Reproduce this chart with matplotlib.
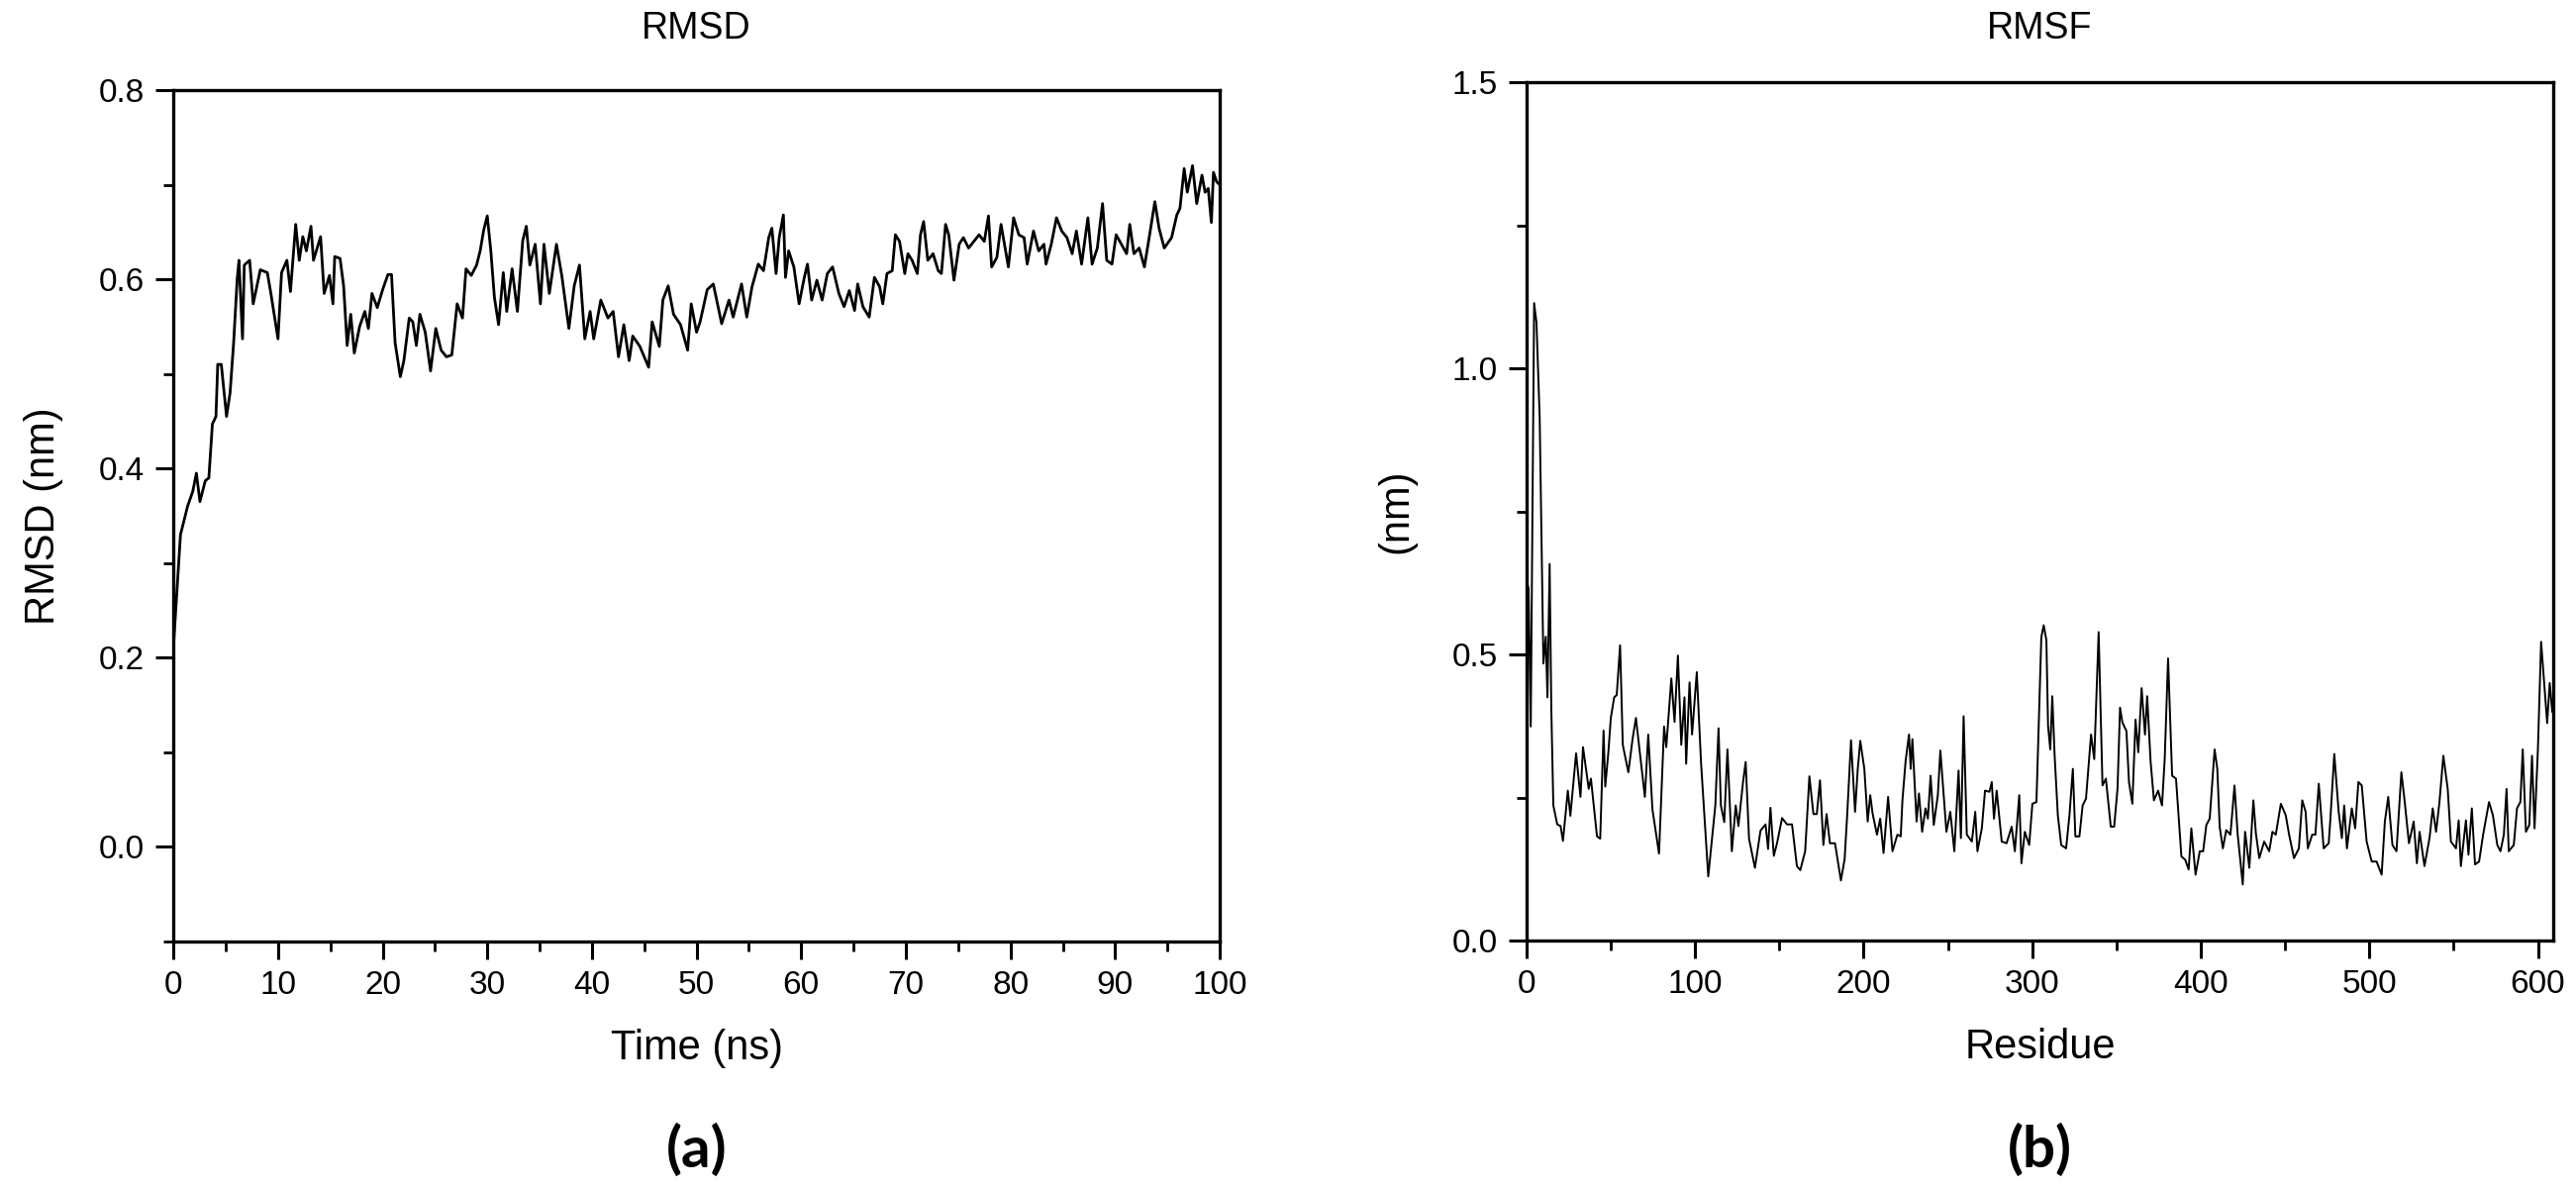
import matplotlib
matplotlib.use("Agg")
import matplotlib.pyplot as plt
from matplotlib.ticker import MultipleLocator, FormatStrFormatter

plt.rcParams["font.family"] = ["Liberation Sans", "DejaVu Sans"]

# RMSD trace: time (ns) and RMSD (nm)
rmsd_time = [
    0.0, 0.68, 1.36, 1.86, 2.2, 2.54, 3.05, 3.39, 3.73, 4.07, 4.24, 4.58, 5.08, 5.42, 5.76,
    6.1, 6.27, 6.61, 6.78, 7.29, 7.63, 8.31, 8.98, 9.32, 10.0, 10.34, 10.85, 11.19, 11.69,
    12.03, 12.37, 12.71, 13.15, 13.39, 14.07, 14.41, 14.92, 15.25, 15.42, 15.93, 16.27,
    16.61, 16.95, 17.29, 17.8, 18.3, 18.64, 18.98, 19.49, 20.0, 20.51, 20.85, 21.19, 21.69,
    22.03, 22.54, 22.88, 23.22, 23.56, 24.07, 24.58, 25.08, 25.59, 26.1, 26.61, 27.12,
    27.63, 27.97, 28.47, 28.98, 29.32, 29.66, 30.0, 30.34, 30.68, 31.08, 31.53, 31.86,
    32.37, 32.88, 33.39, 33.73, 34.07, 34.58, 35.08, 35.42, 35.93, 36.61, 37.12, 37.8,
    38.31, 38.81, 39.32, 39.83, 40.17, 40.85, 41.53, 42.03, 42.54, 43.05, 43.56, 43.9,
    44.58, 45.42, 45.76, 46.44, 46.78, 47.29, 47.8, 48.47, 49.15, 49.49, 50.0, 50.34,
    51.02, 51.6, 52.4, 53.1, 53.5, 54.3, 54.8, 55.3, 55.9, 56.4, 56.9, 57.2, 57.6, 57.9,
    58.3, 58.5, 58.8, 59.3, 59.8, 60.3, 60.6, 61.0, 61.5, 62.0, 62.5, 63.0, 63.6, 64.1,
    64.6, 65.1, 65.4, 65.9, 66.5, 67.0, 67.5, 67.8, 68.2, 68.7, 69.0, 69.4, 69.9, 70.2,
    70.6, 71.1, 71.4, 71.7, 72.1, 72.6, 73.1, 73.4, 73.8, 74.1, 74.6, 75.1, 75.5, 76.0,
    76.5, 77.0, 77.5, 77.9, 78.2, 78.7, 79.1, 79.8, 80.3, 80.8, 81.3, 81.6, 82.2, 82.7,
    83.2, 83.4, 83.9, 84.4, 84.9, 85.4, 85.9, 86.3, 86.8, 87.4, 87.8, 88.3, 88.8, 89.2,
    89.7, 90.1, 90.6, 91.1, 91.4, 91.8, 92.3, 92.8, 93.3, 93.8, 94.2, 94.7, 95.4, 95.9,
    96.2, 96.6, 96.9, 97.4, 97.8, 98.3, 98.6, 98.9, 99.2, 99.4, 99.7, 100.0,
]
rmsd_nm = [
    0.21, 0.33, 0.36, 0.376, 0.395, 0.365, 0.387, 0.39, 0.447, 0.455, 0.51, 0.51, 0.455,
    0.48, 0.533, 0.60, 0.62, 0.537, 0.615, 0.62, 0.574, 0.61, 0.607, 0.585, 0.537, 0.607,
    0.62, 0.587, 0.658, 0.62, 0.645, 0.63, 0.656, 0.62, 0.645, 0.585, 0.604, 0.574, 0.624,
    0.622, 0.593, 0.53, 0.563, 0.522, 0.55, 0.566, 0.548, 0.585, 0.57, 0.589, 0.605, 0.605,
    0.533, 0.497, 0.514, 0.559, 0.555, 0.53, 0.563, 0.544, 0.503, 0.548, 0.525, 0.518,
    0.52, 0.574, 0.559, 0.611, 0.604, 0.615, 0.63, 0.652, 0.667, 0.63, 0.581, 0.552, 0.607,
    0.566, 0.611, 0.566, 0.641, 0.656, 0.615, 0.637, 0.574, 0.637, 0.585, 0.637, 0.604,
    0.548, 0.593, 0.615, 0.537, 0.566, 0.537, 0.578, 0.559, 0.566, 0.518, 0.552, 0.514,
    0.54, 0.529, 0.507, 0.555, 0.529, 0.578, 0.593, 0.563, 0.552, 0.525, 0.574, 0.544,
    0.555, 0.589, 0.595, 0.553, 0.578, 0.56, 0.595, 0.56, 0.592, 0.616, 0.609, 0.644,
    0.654, 0.606, 0.644, 0.668, 0.602, 0.63, 0.613, 0.574, 0.602, 0.616, 0.578, 0.599,
    0.578, 0.606, 0.613, 0.585, 0.571, 0.588, 0.567, 0.595, 0.571, 0.56, 0.602, 0.592,
    0.574, 0.606, 0.609, 0.647, 0.64, 0.606, 0.627, 0.62, 0.606, 0.647, 0.661, 0.62,
    0.627, 0.609, 0.606, 0.658, 0.647, 0.599, 0.637, 0.644, 0.633, 0.64, 0.647, 0.64,
    0.667, 0.613, 0.623, 0.658, 0.613, 0.665, 0.647, 0.644, 0.616, 0.651, 0.63, 0.637,
    0.616, 0.637, 0.665, 0.651, 0.644, 0.627, 0.651, 0.616, 0.665, 0.616, 0.633, 0.68,
    0.62, 0.616, 0.647, 0.637, 0.627, 0.658, 0.627, 0.633, 0.613, 0.647, 0.682, 0.654,
    0.633, 0.644, 0.668, 0.675, 0.717, 0.692, 0.72, 0.68, 0.71, 0.692, 0.696, 0.66, 0.713,
    0.703, 0.70,
]

# RMSF trace: residue index and RMSF (nm)
rmsf_residue = [
    0, 1.2, 2.5, 4.5, 5.9, 7.8, 10, 11.4, 12.4, 13.7, 14.7, 15.9, 18.2, 20.2, 21.6, 24.5,
    26, 29.4, 32, 33.5, 36.9, 38.2, 41.8, 43.7, 45.7, 46.7, 48.6, 50, 52, 53.5, 55.5, 57.1,
    60.4, 62.9, 64.9, 67.3, 70.2, 72.2, 74.7, 78.6, 81.6, 82.9, 85.9, 87.8, 89.8, 91.8,
    93.7, 94.7, 96.7, 98.2, 101, 103.5, 107.8, 112, 113.9, 115.3, 117.3, 119.2, 121.8,
    124.1, 125.7, 128.4, 130, 132, 135.5, 138.8, 141.8, 143.3, 144.7, 146.7, 148.6, 151.6,
    154.5, 157.5, 160.4, 162.4, 165.3, 167.8, 170.2, 172.2, 174.1, 176.1, 178, 180, 183,
    186.5, 188.7, 190.3, 192.5, 194.9, 196.5, 198, 200.4, 202.4, 203.9, 205.3, 207.9,
    209.8, 211.8, 214.5, 217.1, 220, 222, 223, 224.9, 226.9, 227.9, 228.9, 231.4, 232.8,
    234.7, 236.7, 238.1, 239.7, 241.6, 244, 245.5, 249.1, 251.4, 253.8, 256.3, 257.7,
    259.3, 261.2, 264.2, 266.2, 267.5, 270.1, 272, 274.6, 276, 277.3, 278.9, 281.9, 284.8,
    287.8, 289.7, 292.3, 293.6, 295.6, 298.2, 300.1, 302.5, 305.4, 306.8, 308.4, 309.4,
    310.7, 311.9, 313.3, 315.2, 317.2, 320.1, 322.1, 324.1, 325.6, 328, 329.9, 331.9,
    334.9, 336.8, 339.4, 341.7, 343.7, 346.6, 348.6, 350.6, 352.1, 353.5, 355.9, 357.4,
    359.4, 361.3, 362.9, 364.9, 366.9, 368.2, 370.2, 372.2, 374.7, 377, 378.6, 380.6, 383,
    385.3, 388.5, 390.8, 392.8, 394.4, 396.9, 399.4, 401.4, 403.3, 405.3, 408.2, 409.8,
    411.2, 413.1, 415.1, 417.6, 420, 421.9, 424.9, 426.3, 428.8, 431.2, 432.7, 434.7,
    437.6, 440.6, 442.5, 444.5, 447.5, 450.4, 452.4, 455.3, 458.2, 460.2, 462.2, 463.5,
    466.1, 468, 470, 472.9, 475.9, 476.9, 479.2, 481.8, 483.7, 485.1, 486.7, 489.6, 491.6,
    493.5, 495.5, 498.4, 501.4, 504.3, 507.3, 509.2, 511.2, 513.7, 516.1, 519, 521, 523.5,
    526.3, 528.2, 529.8, 532.7, 535.7, 537.6, 539.6, 541.6, 543.9, 546.5, 548.4, 551.4,
    553, 554.3, 557.3, 558.8, 560.8, 562.7, 565.1, 567.5, 571, 573.3, 575.9, 577.8, 579.8,
    581.4, 582.7, 585.7, 587.6, 589.6, 591, 592.9, 594.9, 596.5, 598, 600, 601.9, 603.9,
    605.5, 607, 608.5,
]
rmsf_nm = [
    0.63, 0.615, 0.374, 1.114, 1.08, 0.913, 0.484, 0.531, 0.425, 0.658, 0.404, 0.236,
    0.203, 0.2, 0.174, 0.262, 0.218, 0.327, 0.251, 0.338, 0.265, 0.283, 0.182, 0.178,
    0.367, 0.269, 0.331, 0.389, 0.425, 0.429, 0.516, 0.342, 0.294, 0.352, 0.389, 0.327,
    0.251, 0.36, 0.229, 0.152, 0.374, 0.338, 0.458, 0.382, 0.498, 0.342, 0.425, 0.309,
    0.451, 0.36, 0.469, 0.312, 0.112, 0.236, 0.371, 0.236, 0.207, 0.334, 0.156, 0.236,
    0.2, 0.276, 0.312, 0.178, 0.127, 0.192, 0.203, 0.16, 0.232, 0.148, 0.17, 0.214, 0.203,
    0.203, 0.13, 0.123, 0.156, 0.287, 0.221, 0.221, 0.28, 0.167, 0.221, 0.17, 0.17, 0.105,
    0.142, 0.223, 0.35, 0.225, 0.3, 0.349, 0.3, 0.208, 0.254, 0.222, 0.185, 0.213, 0.153,
    0.251, 0.156, 0.185, 0.182, 0.245, 0.314, 0.36, 0.3, 0.352, 0.208, 0.257, 0.19, 0.231,
    0.213, 0.288, 0.202, 0.254, 0.332, 0.19, 0.225, 0.156, 0.297, 0.179, 0.392, 0.185,
    0.173, 0.225, 0.156, 0.196, 0.262, 0.26, 0.277, 0.213, 0.262, 0.173, 0.17, 0.199,
    0.156, 0.254, 0.135, 0.19, 0.167, 0.239, 0.242, 0.53, 0.551, 0.525, 0.375, 0.334,
    0.427, 0.323, 0.219, 0.167, 0.161, 0.219, 0.3, 0.182, 0.182, 0.236, 0.248, 0.36,
    0.317, 0.539, 0.271, 0.283, 0.199, 0.199, 0.265, 0.407, 0.381, 0.366, 0.277, 0.239,
    0.386, 0.329, 0.441, 0.36, 0.427, 0.314, 0.245, 0.262, 0.236, 0.317, 0.493, 0.288,
    0.283, 0.147, 0.141, 0.124, 0.196, 0.115, 0.156, 0.156, 0.202, 0.213, 0.334, 0.3,
    0.199, 0.161, 0.193, 0.185, 0.271, 0.185, 0.098, 0.19, 0.127, 0.245, 0.187, 0.144,
    0.173, 0.156, 0.19, 0.185, 0.239, 0.219, 0.185, 0.144, 0.161, 0.245, 0.225, 0.161,
    0.185, 0.185, 0.274, 0.161, 0.17, 0.213, 0.326, 0.225, 0.179, 0.236, 0.161, 0.231,
    0.196, 0.277, 0.271, 0.173, 0.138, 0.138, 0.115, 0.208, 0.251, 0.167, 0.156, 0.294,
    0.242, 0.17, 0.208, 0.135, 0.19, 0.13, 0.179, 0.231, 0.19, 0.242, 0.323, 0.265, 0.173,
    0.161, 0.21, 0.13, 0.21, 0.15, 0.231, 0.133, 0.138, 0.185, 0.242, 0.219, 0.167, 0.156,
    0.185, 0.265, 0.156, 0.167, 0.231, 0.242, 0.334, 0.19, 0.202, 0.323, 0.196, 0.334,
    0.522, 0.444, 0.38, 0.45, 0.40,
]


def style_axes(ax, xmajor, xminor, ymajor, yminor):
    for side in ["left", "right", "top", "bottom"]:
        ax.spines[side].set_linewidth(2.4)
    ax.xaxis.set_major_locator(MultipleLocator(xmajor))
    ax.xaxis.set_minor_locator(MultipleLocator(xminor))
    ax.yaxis.set_major_locator(MultipleLocator(ymajor))
    ax.yaxis.set_minor_locator(MultipleLocator(yminor))
    ax.yaxis.set_major_formatter(FormatStrFormatter("%.1f"))
    ax.tick_params(which="major", direction="out", length=13, width=2.2, labelsize=24, pad=8)
    ax.tick_params(which="minor", direction="out", length=7, width=2.0)
    ax.tick_params(top=False, right=False, which="both")


fig = plt.figure(figsize=(26.02, 12.03), dpi=100)

left_box = [0.0673, 0.2095, 0.4062, 0.7149]
right_box = [0.5926, 0.2103, 0.3985, 0.7207]

ax1 = fig.add_axes(left_box)
ax1.plot(rmsd_time, rmsd_nm, color="black", lw=2.0)
ax1.set_xlim(0, 100)
ax1.set_ylim(-0.1, 0.8)
style_axes(ax1, 10, 5, 0.2, 0.1)
ax1.set_xlabel("Time (ns)", fontsize=30, labelpad=20)
ax1.set_ylabel("RMSD (nm)", fontsize=30, labelpad=26)

ax2 = fig.add_axes(right_box)
ax2.plot(rmsf_residue, rmsf_nm, color="black", lw=1.4)
ax2.set_xlim(0, 609)
ax2.set_ylim(0, 1.5)
style_axes(ax2, 100, 50, 0.5, 0.25)
ax2.set_xlabel("Residue", fontsize=30, labelpad=20)
ax2.set_ylabel("(nm)", fontsize=30, labelpad=26)

# panel titles sit at the same height above both plots
for box, title in [(left_box, "RMSD"), (right_box, "RMSF")]:
    cx = box[0] + box[2] / 2
    fig.text(cx, 0.976, title, fontsize=27, ha="center", va="center")

for box, tag in [(left_box, "(a)"), (right_box, "(b)")]:
    cx = box[0] + box[2] / 2
    fig.text(cx, 0.034, tag, fontsize=42, fontweight="bold",
             family=["Lato", "DejaVu Sans"], ha="center", va="center")

fig.savefig("out.png", dpi=100)
